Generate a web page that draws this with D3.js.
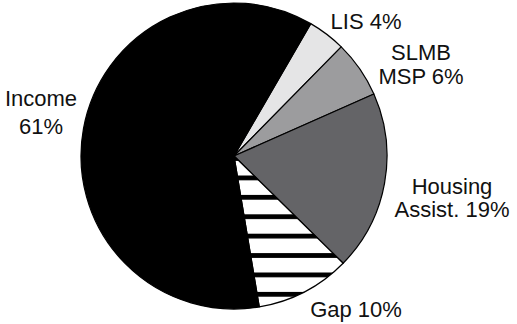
<!DOCTYPE html>
<html>
<head>
<meta charset="utf-8">
<script src="https://cdn.jsdelivr.net/npm/d3@7"></script>
<style>
  body { margin: 0; background: #fff; }
  svg text { font-family: "Liberation Sans", Arial, sans-serif; font-size: 22px; fill: #111; }
</style>
</head>
<body>
<div class="pie-container"></div>
<script>
// data
const categories = ['LIS', 'SLMB', 'Housing', 'Gap', 'Income'];
const shares = [4, 6, 19, 10, 61];
const labelLines = [
  ['LIS 4%'],
  ['SLMB', 'MSP 6%'],
  ['Housing', 'Assist. 19%'],
  ['Gap 10%'],
  ['Income', '61%']
];

// look
const fills = {LIS: '#e5e5e6', SLMB: '#9c9c9e', Housing: '#646467', Gap: 'url(#stripes)', Income: '#000'};
// label anchor (x centre, first baseline) and line gap
const labelPos = {
  LIS: [366, 29, 0],
  SLMB: [421, 60, 23.5],
  Housing: [452, 194, 23],
  Gap: [356, 317, 0],
  Income: [41, 106, 28]
};

const width = 517, height = 324;
const cx = 234, cy = 156, radius = 153;

const svg = d3.select('.pie-container').append('svg')
  .attr('width', width).attr('height', height);

// horizontal stripes for the gap slice
const pat = svg.append('defs').append('pattern')
  .attr('id', 'stripes')
  .attr('patternUnits', 'userSpaceOnUse')
  .attr('x', 0).attr('y', 174.7)
  .attr('width', 20).attr('height', 19.4);
pat.append('rect').attr('width', 20).attr('height', 19.4).attr('fill', '#fff');
pat.append('rect').attr('width', 20).attr('height', 4.8).attr('fill', '#000');

const pie = d3.pie().sort(null)
  .startAngle(30.1 * Math.PI / 180)
  .endAngle(30.1 * Math.PI / 180 + 2 * Math.PI);
const arcs = pie(shares);
const arc = d3.arc().innerRadius(0).outerRadius(radius);

const g = svg.append('g').attr('transform', `translate(${cx},${cy})`);
g.selectAll('.slice')
  .data(arcs)
  .enter()
  .append('path')
  .attr('class', 'slice')
  .attr('d', arc)
  .attr('fill', (d, i) => fills[categories[i]])
  .attr('stroke', '#000')
  .attr('stroke-width', 1.2)
  .attr('stroke-linejoin', 'round');

// labels
categories.forEach((c, i) => {
  const p = labelPos[c];
  const t = svg.append('text').attr('text-anchor', 'middle');
  labelLines[i].forEach((line, j) => {
    t.append('tspan').attr('x', p[0]).attr('y', p[1] + j * p[2]).text(line);
  });
});
</script>
</body>
</html>
